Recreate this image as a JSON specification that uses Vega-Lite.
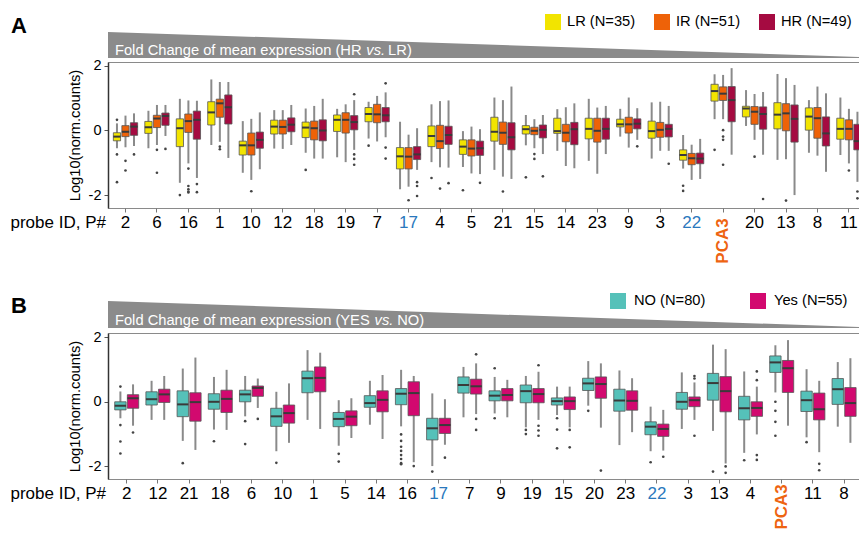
{
  "$schema": "https://vega.github.io/schema/vega-lite/v6.json",
  "padding": {"top": 13, "left": 9, "right": 0, "bottom": 0},
  "background": "white",
  "config": {
    "font": "Liberation Sans",
    "view": {"stroke": "#8a8a8a", "strokeWidth": 1},
    "axis": {"grid": false, "labelFont": "Liberation Sans", "titleFont": "Liberation Sans", "labelColor": "#000", "titleColor": "#000", "titleFontWeight": "normal"},
    "legend": {"labelFont": "Liberation Sans"}
  },
  "datasets": {
    "boxA": [
      {"p":"2","g":"LR","lo":-0.55,"q1":-0.32,"med":-0.19,"q3":-0.07,"hi":0.22},
      {"p":"2","g":"IR","lo":-0.52,"q1":-0.19,"med":-0.04,"q3":0.15,"hi":0.46},
      {"p":"2","g":"HR","lo":-0.48,"q1":-0.15,"med":0.12,"q3":0.24,"hi":0.53},
      {"p":"6","g":"LR","lo":-0.55,"q1":-0.09,"med":0.10,"q3":0.28,"hi":0.61},
      {"p":"6","g":"IR","lo":-0.45,"q1":0.09,"med":0.37,"q3":0.47,"hi":0.79},
      {"p":"6","g":"HR","lo":-0.17,"q1":0.16,"med":0.45,"q3":0.54,"hi":0.79},
      {"p":"16","g":"LR","lo":-1.62,"q1":-0.50,"med":0.07,"q3":0.36,"hi":0.98},
      {"p":"16","g":"IR","lo":-1.02,"q1":-0.06,"med":0.29,"q3":0.51,"hi":0.93},
      {"p":"16","g":"HR","lo":-1.47,"q1":-0.27,"med":0.33,"q3":0.60,"hi":0.92},
      {"p":"1","g":"LR","lo":-0.45,"q1":0.17,"med":0.56,"q3":0.89,"hi":1.58},
      {"p":"1","g":"IR","lo":-0.35,"q1":0.41,"med":0.84,"q3":0.97,"hi":1.50},
      {"p":"1","g":"HR","lo":-0.85,"q1":0.20,"med":0.72,"q3":1.10,"hi":1.50},
      {"p":"10","g":"LR","lo":-1.31,"q1":-0.76,"med":-0.46,"q3":-0.33,"hi":0.29},
      {"p":"10","g":"IR","lo":-1.53,"q1":-0.76,"med":-0.46,"q3":-0.08,"hi":0.36},
      {"p":"10","g":"HR","lo":-1.20,"q1":-0.55,"med":-0.29,"q3":-0.05,"hi":0.56},
      {"p":"12","g":"LR","lo":-0.56,"q1":-0.11,"med":0.12,"q3":0.32,"hi":0.63},
      {"p":"12","g":"IR","lo":-0.57,"q1":-0.11,"med":0.11,"q3":0.32,"hi":0.63},
      {"p":"12","g":"HR","lo":-0.45,"q1":-0.04,"med":0.18,"q3":0.39,"hi":0.79},
      {"p":"18","g":"LR","lo":-0.69,"q1":-0.22,"med":0.09,"q3":0.26,"hi":0.68},
      {"p":"18","g":"IR","lo":-0.87,"q1":-0.29,"med":0.07,"q3":0.29,"hi":0.76},
      {"p":"18","g":"HR","lo":-0.87,"q1":-0.32,"med":0.00,"q3":0.33,"hi":0.98},
      {"p":"19","g":"LR","lo":-0.83,"q1":-0.03,"med":0.33,"q3":0.48,"hi":0.67},
      {"p":"19","g":"IR","lo":-0.98,"q1":-0.08,"med":0.33,"q3":0.55,"hi":0.81},
      {"p":"19","g":"HR","lo":-0.60,"q1":0.02,"med":0.26,"q3":0.46,"hi":0.94},
      {"p":"7","g":"LR","lo":-0.25,"q1":0.27,"med":0.51,"q3":0.71,"hi":0.89},
      {"p":"7","g":"IR","lo":-0.34,"q1":0.24,"med":0.50,"q3":0.81,"hi":1.07},
      {"p":"7","g":"HR","lo":-0.21,"q1":0.27,"med":0.47,"q3":0.71,"hi":1.18},
      {"p":"17","g":"LR","lo":-1.82,"q1":-1.19,"med":-0.80,"q3":-0.53,"hi":0.27},
      {"p":"17","g":"IR","lo":-1.74,"q1":-1.19,"med":-0.81,"q3":-0.53,"hi":-0.13},
      {"p":"17","g":"HR","lo":-1.22,"q1":-0.90,"med":-0.74,"q3":-0.50,"hi":0.07},
      {"p":"4","g":"LR","lo":-0.98,"q1":-0.50,"med":-0.17,"q3":0.14,"hi":0.81},
      {"p":"4","g":"IR","lo":-1.14,"q1":-0.56,"med":-0.33,"q3":0.16,"hi":0.91},
      {"p":"4","g":"HR","lo":-1.15,"q1":-0.43,"med":-0.14,"q3":0.13,"hi":0.93},
      {"p":"5","g":"LR","lo":-1.13,"q1":-0.74,"med":-0.50,"q3":-0.29,"hi":-0.02},
      {"p":"5","g":"IR","lo":-1.33,"q1":-0.79,"med":-0.56,"q3":-0.29,"hi":0.12},
      {"p":"5","g":"HR","lo":-1.35,"q1":-0.77,"med":-0.55,"q3":-0.33,"hi":0.04},
      {"p":"21","g":"LR","lo":-1.22,"q1":-0.33,"med":-0.04,"q3":0.41,"hi":1.02},
      {"p":"21","g":"IR","lo":-1.43,"q1":-0.43,"med":-0.07,"q3":0.26,"hi":0.94},
      {"p":"21","g":"HR","lo":-1.50,"q1":-0.60,"med":-0.21,"q3":0.24,"hi":1.36},
      {"p":"15","g":"LR","lo":-0.46,"q1":-0.11,"med":0.04,"q3":0.15,"hi":0.48},
      {"p":"15","g":"IR","lo":-0.55,"q1":-0.13,"med":-0.01,"q3":0.10,"hi":0.35},
      {"p":"15","g":"HR","lo":-0.73,"q1":-0.23,"med":0.02,"q3":0.17,"hi":0.48},
      {"p":"14","g":"LR","lo":-0.63,"q1":-0.09,"med":-0.02,"q3":0.38,"hi":0.66},
      {"p":"14","g":"IR","lo":-1.10,"q1":-0.35,"med":-0.07,"q3":0.19,"hi":0.72},
      {"p":"14","g":"HR","lo":-1.17,"q1":-0.44,"med":0.04,"q3":0.25,"hi":0.84},
      {"p":"23","g":"LR","lo":-0.94,"q1":-0.26,"med":0.05,"q3":0.38,"hi":0.98},
      {"p":"23","g":"IR","lo":-1.34,"q1":-0.36,"med":-0.01,"q3":0.38,"hi":0.71},
      {"p":"23","g":"HR","lo":-0.73,"q1":-0.27,"med":0.05,"q3":0.38,"hi":0.76},
      {"p":"9","g":"LR","lo":-0.19,"q1":0.11,"med":0.19,"q3":0.35,"hi":0.67},
      {"p":"9","g":"IR","lo":-0.53,"q1":-0.08,"med":0.19,"q3":0.41,"hi":1.02},
      {"p":"9","g":"HR","lo":-0.29,"q1":0.05,"med":0.21,"q3":0.36,"hi":0.69},
      {"p":"3","g":"LR","lo":-0.87,"q1":-0.24,"med":-0.02,"q3":0.29,"hi":0.87},
      {"p":"3","g":"IR","lo":-0.63,"q1":-0.21,"med":0.02,"q3":0.25,"hi":0.89},
      {"p":"3","g":"HR","lo":-0.63,"q1":-0.20,"med":0.05,"q3":0.19,"hi":0.76},
      {"p":"22","g":"LR","lo":-1.18,"q1":-0.92,"med":-0.76,"q3":-0.60,"hi":-0.14},
      {"p":"22","g":"IR","lo":-1.53,"q1":-1.06,"med":-0.86,"q3":-0.71,"hi":-0.44},
      {"p":"22","g":"HR","lo":-1.50,"q1":-1.03,"med":-0.87,"q3":-0.70,"hi":-0.26},
      {"p":"PCA3","g":"LR","lo":0.35,"q1":0.91,"med":1.22,"q3":1.43,"hi":1.74},
      {"p":"PCA3","g":"IR","lo":0.35,"q1":0.93,"med":1.14,"q3":1.35,"hi":1.72},
      {"p":"PCA3","g":"HR","lo":-0.75,"q1":0.27,"med":0.94,"q3":1.36,"hi":1.93},
      {"p":"20","g":"LR","lo":0.14,"q1":0.42,"med":0.68,"q3":0.75,"hi":1.25},
      {"p":"20","g":"IR","lo":-0.29,"q1":0.19,"med":0.58,"q3":0.74,"hi":1.13},
      {"p":"20","g":"HR","lo":-0.75,"q1":0.04,"med":0.51,"q3":0.73,"hi":1.19},
      {"p":"13","g":"LR","lo":-0.91,"q1":0.05,"med":0.49,"q3":0.86,"hi":1.75},
      {"p":"13","g":"IR","lo":-0.89,"q1":-0.01,"med":0.53,"q3":0.83,"hi":1.62},
      {"p":"13","g":"HR","lo":-2.00,"q1":-0.36,"med":0.36,"q3":0.79,"hi":1.41},
      {"p":"8","g":"LR","lo":-0.69,"q1":0.01,"med":0.43,"q3":0.70,"hi":0.94},
      {"p":"8","g":"IR","lo":-0.78,"q1":-0.24,"med":0.38,"q3":0.71,"hi":1.36},
      {"p":"8","g":"HR","lo":-1.28,"q1":-0.48,"med":-0.09,"q3":0.42,"hi":1.15},
      {"p":"11","g":"LR","lo":-0.76,"q1":-0.27,"med":0.05,"q3":0.38,"hi":1.02},
      {"p":"11","g":"IR","lo":-1.02,"q1":-0.29,"med":0.05,"q3":0.33,"hi":0.67},
      {"p":"11","g":"HR","lo":-1.59,"q1":-0.60,"med":-0.33,"q3":0.19,"hi":0.58}
    ],
    "outA": [
      {"p":"2","g":"LR","v":0.33},{"p":"2","g":"LR","v":-0.74},{"p":"2","g":"LR","v":-1.60},
      {"p":"2","g":"IR","v":-0.94},{"p":"2","g":"IR","v":-1.24},{"p":"2","g":"HR","v":-0.74},
      {"p":"6","g":"IR","v":-0.60},{"p":"6","g":"IR","v":-1.31},{"p":"6","g":"HR","v":-0.57},
      {"p":"16","g":"LR","v":-2.00},{"p":"16","g":"IR","v":-1.18},{"p":"16","g":"IR","v":-1.72},{"p":"16","g":"IR","v":-1.82},{"p":"16","g":"IR","v":-1.89},{"p":"16","g":"IR","v":-1.92},
      {"p":"16","g":"HR","v":-1.66},{"p":"16","g":"HR","v":-1.91},
      {"p":"1","g":"IR","v":-0.50},{"p":"1","g":"IR","v":-0.58},
      {"p":"10","g":"IR","v":-1.88},
      {"p":"18","g":"LR","v":-1.22},
      {"p":"19","g":"HR","v":1.12},{"p":"19","g":"HR","v":-0.74},{"p":"19","g":"HR","v":-0.88},{"p":"19","g":"HR","v":-1.06},
      {"p":"7","g":"LR","v":-0.47},{"p":"7","g":"HR","v":1.46},{"p":"7","g":"HR","v":-0.53},{"p":"7","g":"HR","v":-0.87},
      {"p":"17","g":"IR","v":-2.16},{"p":"17","g":"HR","v":-1.60},{"p":"17","g":"HR","v":-1.72},{"p":"17","g":"HR","v":-2.03},
      {"p":"4","g":"LR","v":-1.47},{"p":"4","g":"IR","v":-1.80},{"p":"4","g":"HR","v":-1.63},
      {"p":"5","g":"LR","v":-1.85},{"p":"5","g":"HR","v":-1.62},
      {"p":"21","g":"IR","v":-1.89},
      {"p":"15","g":"LR","v":-1.45},{"p":"15","g":"IR","v":-0.73},{"p":"15","g":"IR","v":-0.88},{"p":"15","g":"HR","v":-1.42},
      {"p":"9","g":"HR","v":-0.49},
      {"p":"3","g":"HR","v":-1.03},
      {"p":"22","g":"LR","v":-1.71},{"p":"22","g":"LR","v":-1.87},
      {"p":"PCA3","g":"LR","v":-0.60},{"p":"PCA3","g":"IR","v":0.01},{"p":"PCA3","g":"IR","v":-0.19},{"p":"PCA3","g":"IR","v":-0.29},{"p":"PCA3","g":"IR","v":-1.06},
      {"p":"20","g":"IR","v":-0.81},{"p":"20","g":"HR","v":-2.12},
      {"p":"13","g":"IR","v":-2.17},
      {"p":"11","g":"IR","v":-1.24},{"p":"11","g":"HR","v":-1.89},{"p":"11","g":"HR","v":-2.10}
    ],
    "boxB": [
      {"p":"2","g":"NO","lo":-0.51,"q1":-0.25,"med":-0.12,"q3":0.00,"hi":0.32},
      {"p":"2","g":"Yes","lo":-0.74,"q1":-0.20,"med":0.11,"q3":0.22,"hi":0.54},
      {"p":"12","g":"NO","lo":-0.56,"q1":-0.10,"med":0.08,"q3":0.31,"hi":0.65},
      {"p":"12","g":"Yes","lo":-0.56,"q1":-0.02,"med":0.23,"q3":0.39,"hi":0.80},
      {"p":"21","g":"NO","lo":-1.21,"q1":-0.46,"med":-0.08,"q3":0.34,"hi":1.03},
      {"p":"21","g":"Yes","lo":-1.49,"q1":-0.60,"med":-0.01,"q3":0.28,"hi":1.37},
      {"p":"18","g":"NO","lo":-0.86,"q1":-0.23,"med":0.00,"q3":0.25,"hi":0.77},
      {"p":"18","g":"Yes","lo":-0.87,"q1":-0.33,"med":0.09,"q3":0.36,"hi":0.99},
      {"p":"6","g":"NO","lo":-0.45,"q1":0.00,"med":0.23,"q3":0.36,"hi":0.80},
      {"p":"6","g":"Yes","lo":-0.19,"q1":0.17,"med":0.43,"q3":0.49,"hi":0.72},
      {"p":"10","g":"NO","lo":-1.53,"q1":-0.76,"med":-0.45,"q3":-0.20,"hi":0.31},
      {"p":"10","g":"Yes","lo":-1.27,"q1":-0.66,"med":-0.35,"q3":-0.10,"hi":0.57},
      {"p":"1","g":"NO","lo":-0.56,"q1":0.28,"med":0.73,"q3":0.95,"hi":1.60},
      {"p":"1","g":"Yes","lo":-0.84,"q1":0.31,"med":0.74,"q3":1.08,"hi":1.52},
      {"p":"5","g":"NO","lo":-1.36,"q1":-0.77,"med":-0.53,"q3":-0.33,"hi":0.05},
      {"p":"5","g":"Yes","lo":-1.12,"q1":-0.74,"med":-0.46,"q3":-0.28,"hi":0.11},
      {"p":"14","g":"NO","lo":-0.71,"q1":-0.17,"med":-0.04,"q3":0.19,"hi":0.65},
      {"p":"14","g":"Yes","lo":-1.15,"q1":-0.31,"med":0.06,"q3":0.34,"hi":0.83},
      {"p":"16","g":"NO","lo":-0.76,"q1":-0.09,"med":0.25,"q3":0.41,"hi":0.99},
      {"p":"16","g":"Yes","lo":-1.87,"q1":-0.43,"med":0.27,"q3":0.62,"hi":0.80},
      {"p":"17","g":"NO","lo":-1.99,"q1":-1.18,"med":-0.82,"q3":-0.51,"hi":0.26},
      {"p":"17","g":"Yes","lo":-1.33,"q1":-0.98,"med":-0.72,"q3":-0.51,"hi":0.08},
      {"p":"7","g":"NO","lo":-0.48,"q1":0.27,"med":0.52,"q3":0.77,"hi":1.08},
      {"p":"7","g":"Yes","lo":-0.38,"q1":0.24,"med":0.48,"q3":0.70,"hi":1.19},
      {"p":"9","g":"NO","lo":-0.36,"q1":0.03,"med":0.19,"q3":0.34,"hi":0.77},
      {"p":"9","g":"Yes","lo":-0.48,"q1":0.03,"med":0.21,"q3":0.41,"hi":0.68},
      {"p":"19","g":"NO","lo":-0.79,"q1":-0.03,"med":0.33,"q3":0.52,"hi":0.80},
      {"p":"19","g":"Yes","lo":-0.56,"q1":-0.03,"med":0.24,"q3":0.41,"hi":0.93},
      {"p":"15","g":"NO","lo":-0.41,"q1":-0.10,"med":0.02,"q3":0.12,"hi":0.47},
      {"p":"15","g":"Yes","lo":-0.79,"q1":-0.24,"med":0.02,"q3":0.15,"hi":0.47},
      {"p":"20","g":"NO","lo":-0.12,"q1":0.35,"med":0.57,"q3":0.73,"hi":1.26},
      {"p":"20","g":"Yes","lo":-0.80,"q1":0.11,"med":0.55,"q3":0.77,"hi":1.19},
      {"p":"23","g":"NO","lo":-1.34,"q1":-0.29,"med":0.04,"q3":0.39,"hi":0.97},
      {"p":"23","g":"Yes","lo":-0.94,"q1":-0.26,"med":0.03,"q3":0.34,"hi":0.73},
      {"p":"22","g":"NO","lo":-1.53,"q1":-1.02,"med":-0.77,"q3":-0.62,"hi":-0.15},
      {"p":"22","g":"Yes","lo":-1.51,"q1":-1.07,"med":-0.84,"q3":-0.69,"hi":-0.25},
      {"p":"3","g":"NO","lo":-0.84,"q1":-0.23,"med":0.00,"q3":0.29,"hi":0.91},
      {"p":"3","g":"Yes","lo":-0.56,"q1":-0.15,"med":0.05,"q3":0.15,"hi":0.60},
      {"p":"13","g":"NO","lo":-0.90,"q1":0.05,"med":0.58,"q3":0.88,"hi":1.77},
      {"p":"13","g":"Yes","lo":-1.91,"q1":-0.31,"med":0.33,"q3":0.78,"hi":1.63},
      {"p":"4","g":"NO","lo":-1.58,"q1":-0.56,"med":-0.20,"q3":0.17,"hi":0.94},
      {"p":"4","g":"Yes","lo":-1.01,"q1":-0.45,"med":-0.19,"q3":0.00,"hi":0.47},
      {"p":"PCA3","g":"NO","lo":0.29,"q1":0.91,"med":1.22,"q3":1.42,"hi":1.75},
      {"p":"PCA3","g":"Yes","lo":-0.74,"q1":0.29,"med":1.04,"q3":1.28,"hi":1.91},
      {"p":"11","g":"NO","lo":-1.10,"q1":-0.30,"med":0.05,"q3":0.33,"hi":1.01},
      {"p":"11","g":"Yes","lo":-1.56,"q1":-0.56,"med":-0.23,"q3":0.27,"hi":0.65},
      {"p":"8","g":"NO","lo":-0.77,"q1":-0.08,"med":0.39,"q3":0.72,"hi":1.23},
      {"p":"8","g":"Yes","lo":-1.27,"q1":-0.45,"med":-0.04,"q3":0.44,"hi":1.35}
    ],
    "outB": [
      {"p":"2","g":"NO","v":0.47},{"p":"2","g":"NO","v":-0.72},{"p":"2","g":"NO","v":-1.23},{"p":"2","g":"NO","v":-1.60},{"p":"2","g":"Yes","v":-0.95},
      {"p":"21","g":"NO","v":-1.90},
      {"p":"18","g":"NO","v":-1.22},
      {"p":"6","g":"NO","v":-0.60},{"p":"6","g":"NO","v":-1.31},{"p":"6","g":"Yes","v":-0.53},
      {"p":"10","g":"NO","v":-1.89},
      {"p":"5","g":"NO","v":-1.61},{"p":"5","g":"NO","v":-1.85},
      {"p":"16","g":"NO","v":-1.01},{"p":"16","g":"NO","v":-1.21},{"p":"16","g":"NO","v":-1.39},{"p":"16","g":"NO","v":-1.52},{"p":"16","g":"NO","v":-1.65},{"p":"16","g":"NO","v":-1.77},{"p":"16","g":"NO","v":-1.90},{"p":"16","g":"NO","v":-1.93},
      {"p":"16","g":"Yes","v":-1.99},
      {"p":"17","g":"NO","v":-2.16},{"p":"17","g":"Yes","v":-1.73},
      {"p":"7","g":"Yes","v":1.47},{"p":"7","g":"Yes","v":-0.53},{"p":"7","g":"Yes","v":-0.87},
      {"p":"9","g":"NO","v":1.04},{"p":"9","g":"NO","v":-0.51},
      {"p":"19","g":"NO","v":-0.87},{"p":"19","g":"NO","v":-1.00},{"p":"19","g":"Yes","v":1.13},{"p":"19","g":"Yes","v":-0.74},{"p":"19","g":"Yes","v":-0.89},{"p":"19","g":"Yes","v":-1.05},
      {"p":"15","g":"NO","v":-0.51},{"p":"15","g":"NO","v":-0.86},{"p":"15","g":"NO","v":-1.44},{"p":"15","g":"Yes","v":-0.87},{"p":"15","g":"Yes","v":-1.41},
      {"p":"20","g":"NO","v":-0.28},{"p":"20","g":"Yes","v":-2.13},
      {"p":"22","g":"NO","v":-1.87},{"p":"22","g":"Yes","v":-1.70},
      {"p":"3","g":"Yes","v":0.80},{"p":"3","g":"Yes","v":0.72},{"p":"3","g":"Yes","v":-1.05},
      {"p":"13","g":"NO","v":-2.16},{"p":"13","g":"Yes","v":-2.00},{"p":"13","g":"Yes","v":-2.20},
      {"p":"4","g":"NO","v":-1.81},{"p":"4","g":"Yes","v":0.94},{"p":"4","g":"Yes","v":0.67},{"p":"4","g":"Yes","v":-1.65},{"p":"4","g":"Yes","v":-1.80},
      {"p":"PCA3","g":"NO","v":0.00},{"p":"PCA3","g":"NO","v":-0.28},{"p":"PCA3","g":"NO","v":-0.62},{"p":"PCA3","g":"NO","v":-1.05},
      {"p":"11","g":"NO","v":-1.25},{"p":"11","g":"Yes","v":-1.92},{"p":"11","g":"Yes","v":-2.12}
    ],
    "bannerShape": [{"x": 0, "y": 1}, {"x": 1, "y": 0.04}],
    "pcaLabel": [{"p": "PCA3"}]
  },
  "bounds": "flush",
  "spacing": 0,
  "resolve": {"scale": {"x": "independent", "y": "independent", "color": "independent", "xOffset": "independent"}, "legend": {"color": "independent"}, "axis": {"x": "independent", "y": "independent"}},
  "vconcat": [
    {
      "width": 751, "height": 30,
      "view": {"stroke": null},
      "title": {"text": "A", "anchor": "start", "frame": "group", "fontSize": 22, "fontWeight": "bold", "font": "Liberation Sans", "color": "#000", "dx": -97, "offset": 0, "dy": 23, "baseline": "alphabetic"},
      "layer": [
        {"data": {"name": "bannerShape"}, "mark": {"type": "area", "color": "#8b8b8b", "opacity": 1},
         "encoding": {"x": {"field": "x", "type": "quantitative", "scale": {"domain": [0, 1], "nice": false}, "axis": null},
                      "y": {"field": "y", "type": "quantitative", "scale": {"domain": [-0.1538, 1], "nice": false, "zero": false}, "axis": null},
                      "y2": {"datum": 0}}},
        {"data": {"values": [{"t": "Fold Change of mean expression (HR"}]}, "mark": {"type": "text", "color": "white", "fontSize": 14.7, "align": "left", "baseline": "alphabetic"},
         "encoding": {"x": {"datum": 0.0093, "type": "quantitative"}, "y": {"datum": 0.12, "type": "quantitative"}, "text": {"field": "t"}}},
        {"data": {"values": [{"t": "vs."}]}, "mark": {"type": "text", "color": "white", "fontSize": 14.7, "fontStyle": "italic", "align": "left", "baseline": "alphabetic"},
         "encoding": {"x": {"datum": 0.344, "type": "quantitative"}, "y": {"datum": 0.12, "type": "quantitative"}, "text": {"field": "t"}}},
        {"data": {"values": [{"t": "LR)"}]}, "mark": {"type": "text", "color": "white", "fontSize": 14.7, "align": "left", "baseline": "alphabetic"},
         "encoding": {"x": {"datum": 0.373, "type": "quantitative"}, "y": {"datum": 0.12, "type": "quantitative"}, "text": {"field": "t"}}}
      ]
    },
    {
      "width": 751, "height": 146,
      "encoding": {
        "x": {"field": "p", "type": "nominal", "title": "probe ID, P#",
              "scale": {"domain": ["2","6","16","1","10","12","18","19","7","17","4","5","21","15","14","23","9","3","22","PCA3","20","13","8","11"], "range": [0, 758.4], "paddingInner": 0.228, "paddingOuter": 0.17},
              "axis": {"domain": false, "ticks": true, "tickSize": 4, "tickColor": "#777", "labelPadding": 2, "labelFontSize": 17, "labelOverlap": false, "labelFlush": false, "labelAngle": 0, "labelAlign": "center", "labelBaseline": "top",
                       "labelExpr": "datum.value === 'PCA3' ? '' : datum.label",
                       "labelColor": {"condition": {"test": "datum.value === '17' || datum.value === '22'", "value": "#2a78bd"}, "value": "#000"},
                       "titleFontSize": 17, "titleFontWeight": "normal", "titleAngle": 0, "titleAlign": "left", "titleBaseline": "top", "titleX": -98, "titleY": 6}}
      },
      "layer": [
        {"data": {"name": "boxA"}, "mark": {"type": "rule", "color": "#8a8a8a", "strokeWidth": 2, "clip": true},
         "encoding": {"xOffset": {"field": "g", "type": "nominal", "scale": {"domain": ["LR","IR","HR"], "paddingInner": 0.15, "paddingOuter": 0}},
                      "y": {"field": "lo", "type": "quantitative", "title": "Log10(norm.counts)", "scale": {"domain": [-2.4, 2.12], "nice": false, "zero": false},
                            "axis": {"values": [-2,-1,0,1,2], "labelExpr": "datum.value === -2 ? '-2' : datum.value === 0 ? '0' : datum.value === 2 ? '2' : ''", "labelFontSize": 14.5, "tickSize": 4, "tickColor": "#555", "labelPadding": 3, "domainColor": "#333", "domainWidth": 1.5, "titleFontSize": 14.7, "titlePadding": 6}},
                      "y2": {"field": "hi"}}},
        {"data": {"name": "boxA"}, "mark": {"type": "bar", "stroke": "#555", "strokeWidth": 0.8, "clip": true, "opacity": 1},
         "encoding": {"xOffset": {"field": "g", "type": "nominal", "scale": {"domain": ["LR","IR","HR"], "paddingInner": 0.15, "paddingOuter": 0}},
                      "y": {"field": "q1", "type": "quantitative", "title": "Log10(norm.counts)", "scale": {"domain": [-2.4, 2.12], "nice": false, "zero": false}},
                      "y2": {"field": "q3"},
                      "color": {"field": "g", "type": "nominal", "scale": {"domain": ["LR","IR","HR"], "range": ["#F2E400","#EE6208","#A50B41"]},
                                "legend": {"orient": "none", "legendX": 437, "legendY": -48, "direction": "horizontal", "title": null, "symbolType": "square", "symbolSize": 256, "symbolStrokeWidth": 0, "symbolOpacity": 1, "labelFontSize": 14.7, "labelColor": "#000", "labelOffset": 6, "columnPadding": 18,
                                           "labelExpr": "datum.label === 'LR' ? 'LR (N=35)' : datum.label === 'IR' ? 'IR (N=51)' : 'HR (N=49)'",
                                           "encode": {"symbols": {"update": {"fill": {"signal": "datum.value === 'LR' ? '#FFDC00' : datum.value === 'IR' ? '#E95B04' : '#760F0E'"}, "stroke": {"value": "transparent"}}}}}}}},
        {"data": {"name": "boxA"}, "mark": {"type": "tick", "color": "#3a3a3a", "thickness": 2, "size": 7.3, "clip": true, "opacity": 1},
         "encoding": {"xOffset": {"field": "g", "type": "nominal", "scale": {"domain": ["LR","IR","HR"], "paddingInner": 0.15, "paddingOuter": 0}},
                      "y": {"field": "med", "type": "quantitative", "title": "Log10(norm.counts)", "scale": {"domain": [-2.4, 2.12], "nice": false, "zero": false}}}},
        {"data": {"name": "outA"}, "mark": {"type": "circle", "color": "#444", "size": 7, "opacity": 1, "clip": true},
         "encoding": {"xOffset": {"field": "g", "type": "nominal", "scale": {"domain": ["LR","IR","HR"], "paddingInner": 0.15, "paddingOuter": 0}},
                      "y": {"field": "v", "type": "quantitative", "title": "Log10(norm.counts)", "scale": {"domain": [-2.4, 2.12], "nice": false, "zero": false}}}},
        {"data": {"name": "pcaLabel"}, "mark": {"type": "text", "angle": 270, "align": "right", "baseline": "middle", "fontSize": 17, "fontWeight": "bold", "color": "#ee6411"},
         "encoding": {"y": {"datum": -2.72, "type": "quantitative"}, "text": {"field": "p"}}}
      ]
    },
    {
      "width": 751, "height": 125,
      "view": {"stroke": null},
      "title": {"text": "B", "anchor": "start", "frame": "group", "fontSize": 22, "fontWeight": "bold", "font": "Liberation Sans", "color": "#000", "dx": -97, "offset": 0, "dy": 127, "baseline": "alphabetic"},
      "layer": [
        {"data": {"name": "bannerShape"}, "mark": {"type": "area", "color": "#8b8b8b", "opacity": 1},
         "encoding": {"x": {"field": "x", "type": "quantitative", "scale": {"domain": [0, 1], "nice": false}, "axis": null},
                      "y": {"field": "y", "type": "quantitative", "scale": {"domain": [-0.185, 4.444], "nice": false, "zero": false}, "axis": null},
                      "y2": {"datum": 0}}},
        {"data": {"values": [{"t": "Fold Change of mean expression (YES"}]}, "mark": {"type": "text", "color": "white", "fontSize": 14.7, "align": "left", "baseline": "alphabetic"},
         "encoding": {"x": {"datum": 0.0093, "type": "quantitative"}, "y": {"datum": 0.12, "type": "quantitative"}, "text": {"field": "t"}}},
        {"data": {"values": [{"t": "vs."}]}, "mark": {"type": "text", "color": "white", "fontSize": 14.7, "fontStyle": "italic", "align": "left", "baseline": "alphabetic"},
         "encoding": {"x": {"datum": 0.355, "type": "quantitative"}, "y": {"datum": 0.12, "type": "quantitative"}, "text": {"field": "t"}}},
        {"data": {"values": [{"t": "NO)"}]}, "mark": {"type": "text", "color": "white", "fontSize": 14.7, "align": "left", "baseline": "alphabetic"},
         "encoding": {"x": {"datum": 0.385, "type": "quantitative"}, "y": {"datum": 0.12, "type": "quantitative"}, "text": {"field": "t"}}}
      ]
    },
    {
      "width": 751, "height": 146,
      "encoding": {
        "x": {"field": "p", "type": "nominal", "title": "probe ID, P#",
              "scale": {"domain": ["2","12","21","18","6","10","1","5","14","16","17","7","9","19","15","20","23","22","3","13","4","PCA3","11","8"], "range": [0, 754.8], "paddingInner": 0.23, "paddingOuter": 0.215},
              "axis": {"domain": false, "ticks": true, "tickSize": 4, "tickColor": "#777", "labelPadding": 2, "labelFontSize": 17, "labelOverlap": false, "labelFlush": false, "labelAngle": 0, "labelAlign": "center", "labelBaseline": "top",
                       "labelExpr": "datum.value === 'PCA3' ? '' : datum.label",
                       "labelColor": {"condition": {"test": "datum.value === '17' || datum.value === '22'", "value": "#2a78bd"}, "value": "#000"},
                       "titleFontSize": 17, "titleFontWeight": "normal", "titleAngle": 0, "titleAlign": "left", "titleBaseline": "top", "titleX": -98, "titleY": 6}}
      },
      "layer": [
        {"data": {"name": "boxB"}, "mark": {"type": "rule", "color": "#8a8a8a", "strokeWidth": 2, "clip": true},
         "encoding": {"xOffset": {"field": "g", "type": "nominal", "scale": {"domain": ["NO","Yes"], "paddingInner": 0.1, "paddingOuter": 0}},
                      "y": {"field": "lo", "type": "quantitative", "title": "Log10(norm.counts)", "scale": {"domain": [-2.39, 2.13], "nice": false, "zero": false},
                            "axis": {"values": [-2,-1,0,1,2], "labelExpr": "datum.value === -2 ? '-2' : datum.value === 0 ? '0' : datum.value === 2 ? '2' : ''", "labelFontSize": 14.5, "tickSize": 4, "tickColor": "#555", "labelPadding": 3, "domainColor": "#333", "domainWidth": 1.5, "titleFontSize": 14.7, "titlePadding": 6}},
                      "y2": {"field": "hi"}}},
        {"data": {"name": "boxB"}, "mark": {"type": "bar", "stroke": "#555", "strokeWidth": 0.8, "clip": true, "opacity": 1},
         "encoding": {"xOffset": {"field": "g", "type": "nominal", "scale": {"domain": ["NO","Yes"], "paddingInner": 0.1, "paddingOuter": 0}},
                      "y": {"field": "q1", "type": "quantitative", "title": "Log10(norm.counts)", "scale": {"domain": [-2.39, 2.13], "nice": false, "zero": false}},
                      "y2": {"field": "q3"},
                      "color": {"field": "g", "type": "nominal", "scale": {"domain": ["NO","Yes"], "range": ["#55C1B9","#D2096F"]},
                                "legend": {"orient": "none", "legendX": 502, "legendY": -40, "direction": "horizontal", "title": null, "symbolType": "square", "symbolSize": 256, "symbolStrokeWidth": 0, "symbolOpacity": 1, "labelFontSize": 14.7, "labelColor": "#000", "labelOffset": 8, "columnPadding": 44,
                                           "labelExpr": "datum.label === 'NO' ? 'NO (N=80)' : 'Yes (N=55)'",
                                           "encode": {"symbols": {"update": {"fill": {"signal": "datum.value === 'NO' ? '#00A092' : '#E2007A'"}, "stroke": {"value": "transparent"}}}}}}}},
        {"data": {"name": "boxB"}, "mark": {"type": "tick", "color": "#3a3a3a", "thickness": 2, "size": 11.3, "clip": true, "opacity": 1},
         "encoding": {"xOffset": {"field": "g", "type": "nominal", "scale": {"domain": ["NO","Yes"], "paddingInner": 0.1, "paddingOuter": 0}},
                      "y": {"field": "med", "type": "quantitative", "title": "Log10(norm.counts)", "scale": {"domain": [-2.39, 2.13], "nice": false, "zero": false}}}},
        {"data": {"name": "outB"}, "mark": {"type": "circle", "color": "#444", "size": 7, "opacity": 1, "clip": true},
         "encoding": {"xOffset": {"field": "g", "type": "nominal", "scale": {"domain": ["NO","Yes"], "paddingInner": 0.1, "paddingOuter": 0}},
                      "y": {"field": "v", "type": "quantitative", "title": "Log10(norm.counts)", "scale": {"domain": [-2.39, 2.13], "nice": false, "zero": false}}}},
        {"data": {"name": "pcaLabel"}, "mark": {"type": "text", "angle": 270, "align": "right", "baseline": "middle", "fontSize": 17, "fontWeight": "bold", "color": "#ee6411"},
         "encoding": {"y": {"datum": -2.55, "type": "quantitative"}, "text": {"field": "p"}}}
      ]
    }
  ]
}
